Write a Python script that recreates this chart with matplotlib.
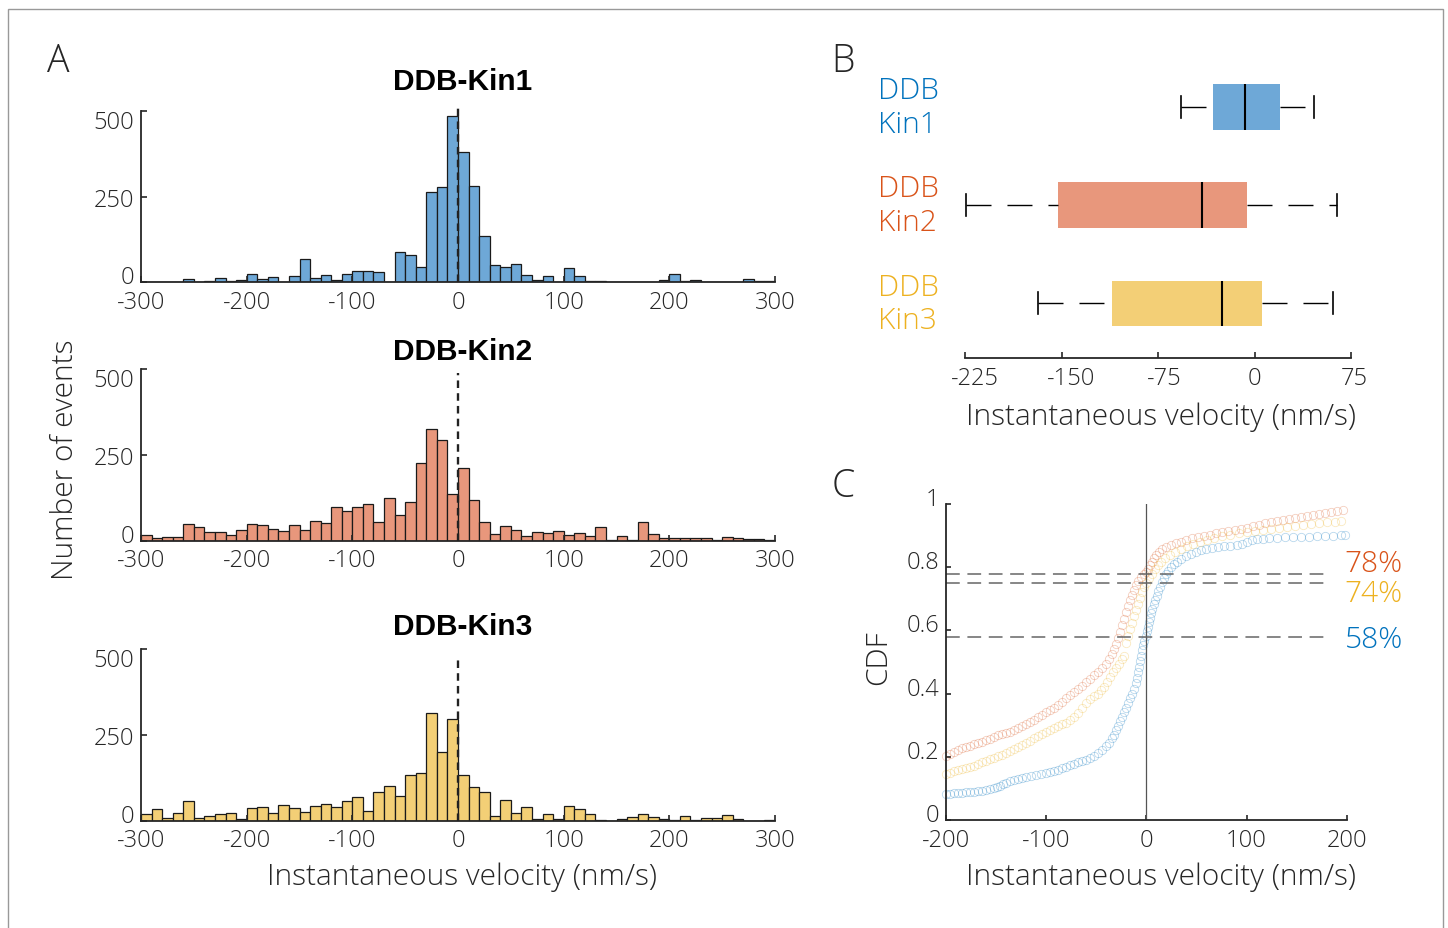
import numpy as np
import matplotlib
matplotlib.use("Agg")
import matplotlib.pyplot as plt
from matplotlib.transforms import ScaledTranslation, blended_transform_factory
from matplotlib.patches import Rectangle

plt.rcParams['font.family'] = ['Open Sans', 'DejaVu Sans']
plt.rcParams['font.weight'] = 'light'
plt.rcParams['axes.unicode_minus'] = False

TXT = '#262626'
W, H = 1448, 929
LAB = 21.5   # axis label size
TICK = 17    # tick label size

# ---- data -------------------------------------------------------------
names = ['DDB-Kin1', 'DDB-Kin2', 'DDB-Kin3']
box_labels = ['DDB\nKin1', 'DDB\nKin2', 'DDB\nKin3']
text_colors = ['#0072BD', '#D95319', '#EDB120']
fill_colors = ['#6EA8D7', '#E8977C', '#F3CF76']

# histogram counts, 10 nm/s bins from -300 to 300
bin_edges = np.arange(-300, 301, 10)
kin1_counts = [2, 2, 0, 0, 10, 0, 4, 13, 4, 8,
               25, 9, 16, 2, 18, 69, 12, 21, 7, 25,
               34, 33, 30, 2, 90, 81, 45, 265, 280, 485,
               382, 282, 135, 51, 45, 54, 22, 7, 18, 1,
               42, 17, 4, 3, 1, 1, 0, 2, 0, 7,
               25, 4, 7, 0, 0, 1, 0, 11, 4, 4]
kin2_counts = [17, 7, 10, 10, 49, 40, 25, 25, 16, 32,
               49, 46, 33, 27, 45, 32, 57, 51, 98, 86,
               99, 108, 54, 125, 74, 112, 227, 325, 293, 136,
               211, 119, 54, 20, 42, 30, 14, 26, 21, 29,
               16, 23, 13, 40, 2, 14, 3, 53, 19, 7,
               7, 7, 7, 7, 2, 11, 8, 4, 5, 2]
kin3_counts = [20, 33, 7, 22, 58, 7, 14, 19, 22, 5,
               37, 39, 21, 47, 36, 24, 42, 50, 39, 56,
               69, 27, 84, 101, 71, 134, 138, 313, 200, 296,
               133, 99, 84, 14, 59, 22, 39, 4, 20, 5,
               42, 35, 20, 3, 0, 6, 11, 19, 11, 5,
               3, 15, 3, 9, 8, 18, 5, 0, 0, 3]
hist_counts = [kin1_counts, kin2_counts, kin3_counts]
hist_yticks = [0, 250, 500]
hist_xticks = [-300, -200, -100, 0, 100, 200, 300]
zero_line_top = [513, 488, 474]

# box plot summary (nm/s)
box_whislo = [-57, -224, -168]
box_q1 = [-32.5, -153, -110.5]
box_med = [-7, -40.5, -25]
box_q3 = [20, -6, 6]
box_whishi = [46, 64, 61]
box_pos = [3, 2, 1]
box_xticks = [-225, -150, -75, 0, 75]

# CDF points
kin1_x = [-200, -196, -192, -188, -184, -180, -176, -172, -168, -164, -160, -156, -152, -149, -146,
          -143, -140, -136, -132, -128, -124, -120, -115, -110, -105, -100, -96, -92, -88, -84,
          -80, -76, -72, -68, -64, -60, -56, -52, -48, -44, -40, -37, -34, -32, -30, -28, -26,
          -24, -22, -20, -18, -16, -14, -12, -10.5, -9, -8, -7, -6, -5, -4, -3, -2, 0, 1, 2, 3,
          4, 5, 6, 7.5, 9, 10.5, 12, 14, 16, 18, 20, 22, 25, 28, 31, 35, 40, 45, 50, 55, 60, 66,
          72, 78, 84, 90, 95, 100, 105, 110, 116, 122, 130, 138, 146, 154, 162, 170, 178, 186,
          194, 198]
kin1_y = [0.082, 0.083, 0.084, 0.085, 0.086, 0.088, 0.089, 0.090, 0.092, 0.093, 0.095, 0.097,
          0.100, 0.104, 0.108, 0.113, 0.118, 0.123, 0.127, 0.131, 0.134, 0.137, 0.140, 0.142,
          0.145, 0.148, 0.151, 0.154, 0.158, 0.163, 0.168, 0.173, 0.178, 0.182, 0.186, 0.190,
          0.196, 0.203, 0.212, 0.222, 0.233, 0.245, 0.258, 0.270, 0.284, 0.298, 0.312, 0.326,
          0.341, 0.356, 0.371, 0.386, 0.400, 0.416, 0.432, 0.450, 0.468, 0.485, 0.502, 0.520,
          0.538, 0.555, 0.568, 0.583, 0.598, 0.612, 0.626, 0.640, 0.654, 0.668, 0.682, 0.696,
          0.710, 0.724, 0.738, 0.752, 0.765, 0.777, 0.788, 0.800, 0.810, 0.818, 0.826, 0.834,
          0.842, 0.848, 0.853, 0.857, 0.861, 0.864, 0.866, 0.868, 0.871, 0.875, 0.880, 0.885,
          0.888, 0.890, 0.892, 0.893, 0.894, 0.895, 0.896, 0.897, 0.898, 0.899, 0.900, 0.902,
          0.903]
kin2_x = [-200, -196, -192, -188, -184, -180, -176, -172, -168, -164, -160, -156, -152, -148, -144,
          -140, -136, -132, -128, -124, -120, -116, -112, -108, -104, -100, -96, -92, -88, -84,
          -80, -76, -72, -68, -64, -60, -56, -52, -48, -44, -40, -37, -34, -32, -30, -28, -26,
          -24, -22, -20, -18, -16, -14, -12, -10, -8, -5, -2, 0, 2, 4, 6, 8, 10, 13, 16, 20, 25,
          30, 35, 40, 46, 52, 58, 64, 70, 76, 82, 88, 94, 100, 106, 112, 118, 124, 130, 136, 142,
          148, 154, 160, 166, 172, 178, 184, 190, 196]
kin2_y = [0.204, 0.210, 0.216, 0.222, 0.227, 0.231, 0.235, 0.239, 0.243, 0.247, 0.252, 0.257,
          0.263, 0.268, 0.272, 0.276, 0.280, 0.284, 0.290, 0.296, 0.303, 0.310, 0.317, 0.325,
          0.333, 0.341, 0.348, 0.356, 0.365, 0.375, 0.385, 0.395, 0.405, 0.415, 0.425, 0.436,
          0.447, 0.458, 0.469, 0.481, 0.494, 0.508, 0.524, 0.540, 0.557, 0.575, 0.595, 0.616,
          0.637, 0.657, 0.677, 0.696, 0.713, 0.729, 0.744, 0.757, 0.769, 0.778, 0.785, 0.795,
          0.806, 0.817, 0.828, 0.838, 0.848, 0.857, 0.864, 0.870, 0.876, 0.881, 0.886, 0.891,
          0.895, 0.899, 0.903, 0.907, 0.910, 0.913, 0.917, 0.921, 0.925, 0.930, 0.935, 0.940,
          0.943, 0.946, 0.949, 0.952, 0.955, 0.958, 0.961, 0.964, 0.968, 0.972, 0.975, 0.978,
          0.980]
kin3_x = [-200, -196, -192, -188, -184, -180, -176, -172, -168, -164, -160, -156, -152, -148, -144,
          -140, -136, -132, -128, -124, -120, -116, -112, -108, -104, -100, -96, -92, -88, -84,
          -80, -76, -72, -68, -64, -60, -56, -52, -48, -45, -42, -39, -36, -33, -30, -27, -24,
          -22, -20, -18, -16, -14, -12, -10, -8, -6, -4, -2, 0, 3, 6, 9, 12, 15, 19, 24, 29, 35,
          41, 47, 54, 61, 68, 76, 84, 92, 100, 108, 116, 124, 132, 140, 148, 156, 164, 172, 180,
          188, 194]
kin3_y = [0.146, 0.150, 0.154, 0.157, 0.160, 0.164, 0.168, 0.172, 0.177, 0.182, 0.187, 0.192,
          0.197, 0.202, 0.207, 0.212, 0.218, 0.224, 0.230, 0.237, 0.244, 0.251, 0.258, 0.265,
          0.272, 0.279, 0.286, 0.292, 0.298, 0.303, 0.308, 0.315, 0.325, 0.340, 0.355, 0.370,
          0.382, 0.392, 0.400, 0.410, 0.422, 0.437, 0.453, 0.468, 0.482, 0.495, 0.508, 0.520,
          0.560, 0.582, 0.604, 0.625, 0.645, 0.665, 0.685, 0.703, 0.720, 0.736, 0.750, 0.765,
          0.779, 0.793, 0.806, 0.818, 0.829, 0.840, 0.849, 0.858, 0.866, 0.873, 0.880, 0.886,
          0.892, 0.898, 0.903, 0.907, 0.911, 0.915, 0.919, 0.922, 0.925, 0.928, 0.931, 0.934,
          0.937, 0.940, 0.942, 0.944, 0.946]
cdf_x = [kin1_x, kin2_x, kin3_x]
cdf_y = [kin1_y, kin2_y, kin3_y]
cdf_levels = [0.78, 0.75, 0.58]
cdf_pct = ['78%', '74%', '58%']
cdf_pct_colors = ['#D95319', '#EDB120', '#0072BD']
cdf_pct_y = [0.813, 0.718, 0.573]
cdf_yticks = [0, 0.2, 0.4, 0.6, 0.8, 1]
cdf_xticks = [-200, -100, 0, 100, 200]


# ---- helpers ----------------------------------------------------------
fig = plt.figure(figsize=(W / 100, H / 100), dpi=100)


def px_axes(left, top, right, bottom):
    return fig.add_axes([left / W, 1 - bottom / H, (right - left) / W, (bottom - top) / H])


def nudge(labels, dxs, dys):
    # shift tick labels by a few pixels
    for lab, dx, dy in zip(labels, dxs, dys):
        lab.set_transform(lab.get_transform() +
                          ScaledTranslation(dx / 100, dy / 100, fig.dpi_scale_trans))


def style_axes(ax, spines=('left', 'bottom')):
    for s in ['left', 'right', 'top', 'bottom']:
        ax.spines[s].set_visible(s in spines)
        ax.spines[s].set_linewidth(1.3)
        ax.spines[s].set_color(TXT)
    ax.tick_params(direction='in', length=4.5, width=1.2, color=TXT,
                   labelcolor=TXT, labelsize=TICK, pad=5)
    ax.tick_params(axis='x', pad=5.5)


# ---- panel A: histograms ----------------------------------------------
hist_boxes = [(141, 112.3, 775, 283.3), (141, 370, 775, 541.7), (141, 650, 775, 821.7)]
title_y = [1.175, 1.107, 1.136]
for i in range(3):
    ax = px_axes(*hist_boxes[i])
    ax.bar(bin_edges[:-1], hist_counts[i], width=10, align='edge',
           color=fill_colors[i], edgecolor='#1a1a1a', linewidth=0.9)
    ax.plot([0, 0], [0, zero_line_top[i]], color='#222222', lw=1.7,
            dashes=(3.2, 2.2), clip_on=False, zorder=5)
    ax.set_xlim(-300, 300)
    ax.set_ylim(0, 500)
    style_axes(ax)
    ax.set_xticks(hist_xticks)
    ax.set_yticks(hist_yticks)
    nudge(ax.get_yticklabels(), [0, 0, 0], [8, 0, -8])
    ax.text(0.508, title_y[i], names[i], transform=ax.transAxes, ha='center',
            va='center', fontsize=21.5, fontweight='bold', color='black',
            family=['Liberation Sans', 'DejaVu Sans'])

fig.text(65 / W, 1 - 460 / H, 'Number of events', rotation=90, ha='center',
         va='center', fontsize=LAB, color=TXT)
fig.text(462 / W, 1 - 877 / H, 'Instantaneous velocity (nm/s)', ha='center',
         va='center', fontsize=LAB, color=TXT)

# ---- panel B: box plot ------------------------------------------------
axB = px_axes(965, 70, 1351, 359)
stats = []
for i in range(3):
    stats.append(dict(label=names[i], whislo=box_whislo[i], q1=box_q1[i],
                      med=box_med[i], q3=box_q3[i], whishi=box_whishi[i], fliers=[]))
bp = axB.bxp(stats, positions=box_pos, vert=False, widths=0.466, capwidths=0.224,
             patch_artist=True, showfliers=False,
             boxprops=dict(edgecolor='none'),
             whiskerprops=dict(color='black', lw=1.0, linestyle=(0, (18, 11.5))),
             capprops=dict(color='black', lw=1.2),
             medianprops=dict(color='black', lw=1.5))
for patch, c in zip(bp['boxes'], fill_colors):
    patch.set_facecolor(c)
for w in bp['whiskers'][::2]:
    w.set_xdata(w.get_xdata()[::-1])
axB.set_xlim(-225, 75)
axB.set_ylim(0.444, 3.388)
style_axes(axB, spines=('bottom',))
axB.set_xticks(box_xticks)
axB.set_yticks([])
nudge(axB.get_xticklabels(), [10, 10, 6, 0, 3], [0, 0, 0, 0, 0])
trB = blended_transform_factory(axB.transAxes, axB.transData)
for i in range(3):
    axB.text(-0.225, box_pos[i], box_labels[i], transform=trB, ha='left', va='center',
             color=text_colors[i], fontsize=LAB, linespacing=1.17)
fig.text(1161 / W, 1 - 417 / H, 'Instantaneous velocity (nm/s)', ha='center',
         va='center', fontsize=LAB, color=TXT)

# ---- panel C: CDF -----------------------------------------------------
axC = px_axes(946, 505, 1346.7, 821)
for i in range(3):
    axC.plot(cdf_x[i], cdf_y[i], 'o', mfc='none', mec=text_colors[i], ms=6,
             mew=0.6, alpha=0.28, clip_on=False)
axC.plot([0, 0], [0, 1], color='#555555', lw=0.9)
for lvl in cdf_levels:
    axC.plot([-200, 184], [lvl, lvl], color='#666666', lw=1.1, dashes=(9, 5))
axC.set_xlim(-200, 200)
axC.set_ylim(0, 1)
style_axes(axC)
axC.tick_params(length=3.5)
axC.set_xticks(cdf_xticks)
axC.set_yticks(cdf_yticks)
axC.set_yticklabels(['0', '0.2', '0.4', '0.6', '0.8', '1'])
nudge(axC.get_yticklabels(), [0] * 6, [8] * 6)
trC = blended_transform_factory(axC.transAxes, axC.transData)
for txt, c, y in zip(cdf_pct, cdf_pct_colors, cdf_pct_y):
    axC.text(0.995, y, txt, transform=trC, ha='left', va='center', color=c, fontsize=LAB)
fig.text(878 / W, 1 - 658 / H, 'CDF', rotation=90, ha='center', va='center',
         fontsize=LAB, color=TXT)
fig.text(1161 / W, 1 - 877 / H, 'Instantaneous velocity (nm/s)', ha='center',
         va='center', fontsize=LAB, color=TXT)

# ---- panel letters and frame -----------------------------------------
for letter, x, y in [('A', 58, 62), ('B', 843, 62), ('C', 843, 487)]:
    fig.text(x / W, 1 - y / H, letter, ha='center', va='center', fontsize=27, color=TXT)

fig.add_artist(Rectangle((8 / W, -0.1), (1443 - 8) / W, 1 - 10 / H + 0.1,
                         transform=fig.transFigure, fill=False, ec='#999999', lw=1))

fig.savefig('out.png', dpi=100)
